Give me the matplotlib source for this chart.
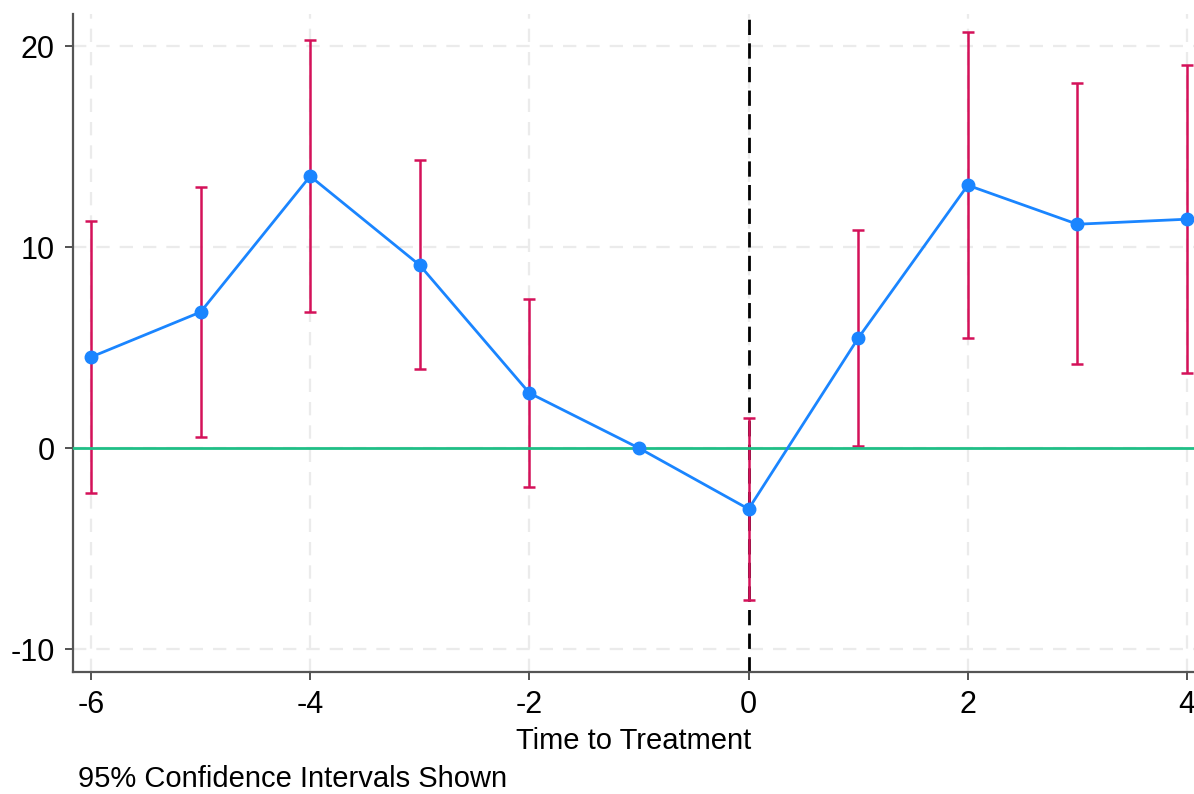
import numpy as np
import matplotlib
matplotlib.use("Agg")
import matplotlib.pyplot as plt

# event-study estimates
periods = [-6, -5, -4, -3, -2, -1, 0, 1, 2, 3, 4]
estimate = [4.53, 6.77, 13.53, 9.10, 2.74, 0.0, -3.03, 5.47, 13.08, 11.14, 11.39]
ci_low = [-2.24, 0.55, 6.77, 3.93, -1.94, np.nan, -7.56, 0.10, 5.47, 4.18, 3.73]
ci_high = [11.30, 12.99, 20.30, 14.33, 7.41, np.nan, 1.49, 10.85, 20.70, 18.16, 19.05]

x_ticks = [-6, -4, -2, 0, 2, 4]
y_ticks = [-10, 0, 10, 20]

plt.rcParams['font.family'] = ['Liberation Sans', 'DejaVu Sans']
plt.rcParams['axes.unicode_minus'] = False

fig = plt.figure(figsize=(11.94, 7.94), dpi=100)
ax = fig.add_axes([73 / 1194, 1 - 672 / 794, 1121 / 1194, 658 / 794])

# grid
for v in x_ticks:
    ax.axvline(v, color='#ebebeb', lw=1.6, ls=(0, (6, 4.5)), zorder=0)
for v in y_ticks:
    ax.axhline(v, color='#ebebeb', lw=1.6, ls=(0, (6, 4.5)), zorder=0)

ax.axvline(0, color='black', lw=2.0, ls=(0, (5.5, 3)), zorder=1)

est = np.array(estimate)
lo = np.array(ci_low)
hi = np.array(ci_high)
mask = ~np.isnan(lo)
px = np.array(periods)
ax.errorbar(px[mask], est[mask], yerr=[est[mask] - lo[mask], hi[mask] - est[mask]],
            fmt='none', ecolor='#d41159', elinewidth=1.8, capsize=4.5, capthick=1.8,
            zorder=2)
ax.axhline(0, color='#1fbf86', lw=2.0, zorder=3)
ax.plot(periods, estimate, color='#1a85ff', lw=2.0, marker='o', ms=9,
        zorder=4, clip_on=False)

ax.set_xlim(-6.164, 4.064)
ax.set_ylim(-11.14, 21.6)
ax.set_xticks(x_ticks)
ax.set_yticks(y_ticks)
ax.tick_params(labelsize=22, length=6, width=1.3, color='#444444', pad=7)
for s in ['top', 'right']:
    ax.spines[s].set_visible(False)
for s in ['left', 'bottom']:
    ax.spines[s].set_color('#555555')
    ax.spines[s].set_linewidth(1.6)

ax.set_xlabel('Time to Treatment', fontsize=21, labelpad=5)
fig.text(78 / 1194, 1 - 779 / 794, '95% Confidence Intervals Shown', fontsize=21,
         va='center', ha='left')

fig.savefig('out.png', dpi=100)
